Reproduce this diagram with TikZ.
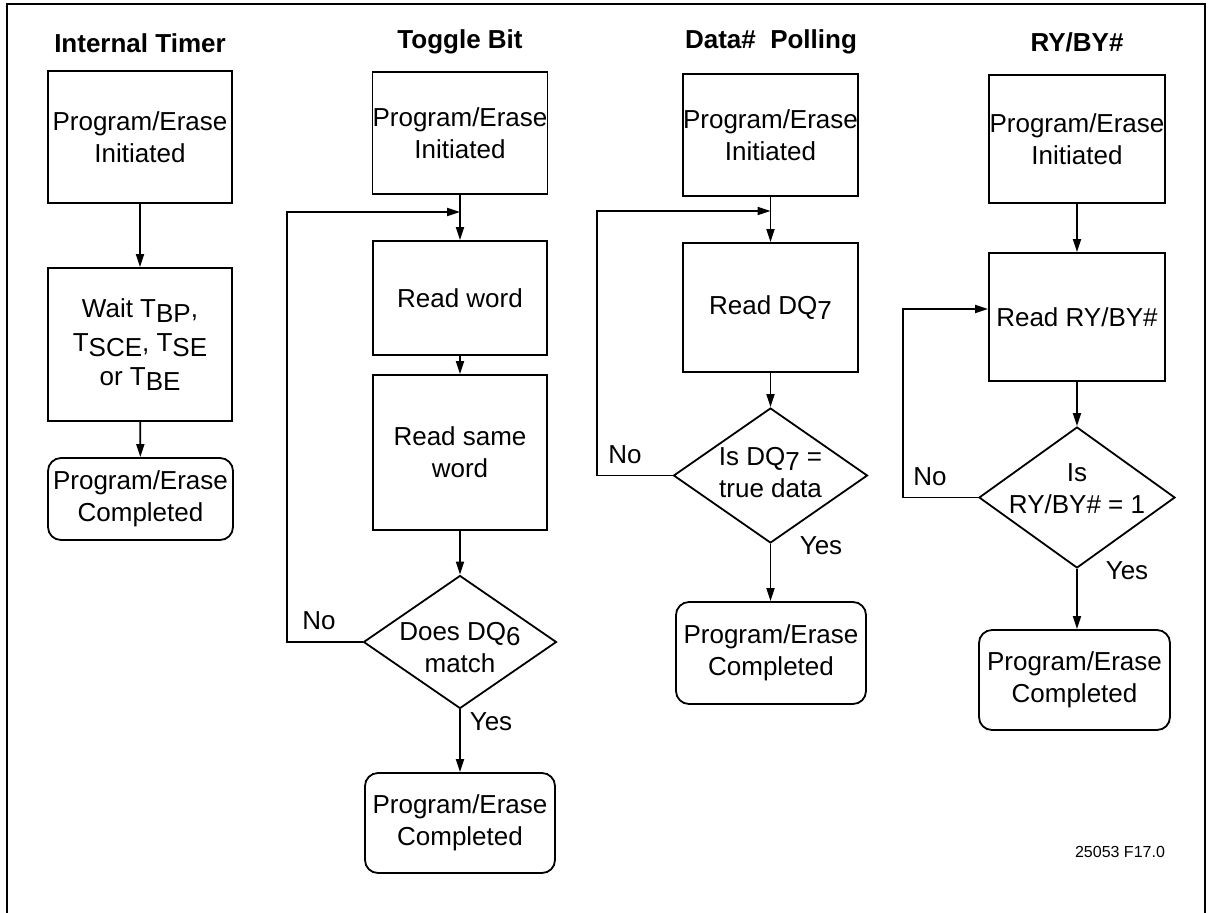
\documentclass[tikz,border=0pt]{standalone}
\usepackage{fontspec}
\setmainfont{Liberation Sans}
\usepackage{tikz}
\usetikzlibrary{shapes.geometric, arrows.meta, positioning, calc}

\newcommand{\dn}[1]{\raisebox{-2.5pt}{#1}}
\tikzset{
  txt/.style={font=\fontsize{13}{16}\selectfont, align=center, inner sep=0pt},
  heading/.style={font=\fontsize{13}{16}\selectfont\bfseries, inner sep=0pt},
  stepbox/.style={txt, draw, line width=0.9pt, rectangle},
  donebox/.style={txt, draw, line width=0.9pt, rounded corners=6.5pt},
  testbox/.style={draw, line width=0.9pt, diamond, inner sep=0pt},
  arr/.style={line width=0.9pt, -{Triangle[length=6.5pt,width=4pt]}},
  wire/.style={line width=0.9pt}
}

\begin{document}
\begin{tikzpicture}[x=0.5pt, y=-0.5pt]
\useasboundingbox (0,0) rectangle (1212,912);
\clip (0,0) rectangle (1212,912);
\draw[line width=1pt] (7,4) rectangle (1205,950);

% Internal Timer
\node[heading] (itHead) at (140,43) {Internal Timer};
\node[stepbox, minimum width=92pt, minimum height=66pt] (itInit) at (140,137) {Program/Erase\\Initiated};
\node[stepbox, minimum width=92pt, minimum height=76.5pt, font=\fontsize{13}{17}\selectfont] (itWait) at (140,344.5)
  {Wait T\dn{BP},\\T\dn{SCE}, T\dn{SE}\\or T\dn{BE}};
\node[donebox, minimum width=92.5pt, minimum height=41pt] (itDone) at (140.5,499) {Program/Erase\\Completed};
\draw[arr] (itInit) -- (itWait);
\draw[arr] (itWait) -- (itDone);

% Toggle Bit
\node[heading] (tbHead) at (460,42) {Toggle Bit};
\node[stepbox, minimum width=87pt, minimum height=61pt] (tbInit) at (460,133) {Program/Erase\\Initiated};
\node[stepbox, minimum width=87pt, minimum height=57pt] (tbRead) at (460,298) {Read word};
\node[stepbox, minimum width=87pt, minimum height=77.5pt] (tbSame) at (460,452.5) {Read same\\word};
\node[testbox, minimum width=96.5pt, minimum height=66.5pt] (tbMatch) at (460,642) {};
\node[txt] (tbMatchTxt) at ([yshift=-3pt]tbMatch.center) {Does DQ\dn{6}\\match};
\node[donebox, minimum width=95pt, minimum height=50pt] (tbDone) at (460,823) {Program/Erase\\Completed};
\coordinate (tbJoin) at (460,212);
\draw[arr] (tbInit) -- (tbRead);
\draw[arr] (tbRead) -- (tbSame);
\draw[arr] (tbSame) -- (tbMatch);
\draw[arr] (tbMatch) -- (tbDone);
\draw[arr] (tbMatch.west) -- (287,642) |- (tbJoin);
\node[txt] (tbNo) at (319,621) {No};
\node[txt] (tbYes) at (491,722) {Yes};

% Data# Polling
\node[heading] (dpHead) at (771,42) {Data\#\ \ Polling};
\node[stepbox, minimum width=87.5pt, minimum height=61pt] (dpInit) at (770.5,135) {Program/Erase\\Initiated};
\node[stepbox, minimum width=87.5pt, minimum height=64.5pt] (dpRead) at (770.5,307.5) {Read DQ\dn{7}};
\node[testbox, minimum width=97pt, minimum height=67.5pt] (dpTrue) at (770.5,475.5) {};
\node[txt] (dpTrueTxt) at ([yshift=1.5pt]dpTrue.center) {Is DQ\dn{7} =\\true data};
\node[donebox, minimum width=95pt, minimum height=51pt] (dpDone) at (771,653) {Program/Erase\\Completed};
\coordinate (dpJoin) at (770.5,211);
\draw[arr] (dpInit) -- (dpRead);
\draw[arr] (dpRead) -- (dpTrue);
\draw[arr] (dpTrue) -- (dpDone.north -| dpTrue.south);
\draw[arr] (dpTrue.west) -- (597,475.5) |- (dpJoin);
\node[txt] (dpNo) at (625,455) {No};
\node[txt] (dpYes) at (821,546) {Yes};

% RY/BY#
\node[heading] (rbHead) at (1077,42) {RY/BY\#};
\node[stepbox, minimum width=88pt, minimum height=64pt] (rbInit) at (1077,139) {Program/Erase\\Initiated};
\node[stepbox, minimum width=88pt, minimum height=64pt] (rbRead) at (1077,317) {Read RY/BY\#};
\node[testbox, minimum width=98pt, minimum height=70.5pt] (rbOne) at (1077,497.5) {};
\node[txt] (rbOneTxt) at ([yshift=4.5pt]rbOne.center) {Is\\RY/BY\# = 1};
\node[donebox, minimum width=95.5pt, minimum height=50pt] (rbDone) at (1074.5,680) {Program/Erase\\Completed};
\draw[arr] (rbInit) -- (rbRead);
\draw[arr] (rbRead) -- (rbOne);
\draw[arr] (rbOne) -- (rbDone.north -| rbOne.south);
\draw[arr] (rbOne.west) -- (903,497.5) |- ([yshift=4pt]rbRead.west);
\node[txt] (rbNo) at (930,477) {No};
\node[txt] (rbYes) at (1127,571) {Yes};

\node[font=\fontsize{8}{10}\selectfont, inner sep=0pt] (figId) at (1120,852) {25053 F17.0};
\end{tikzpicture}
\end{document}
